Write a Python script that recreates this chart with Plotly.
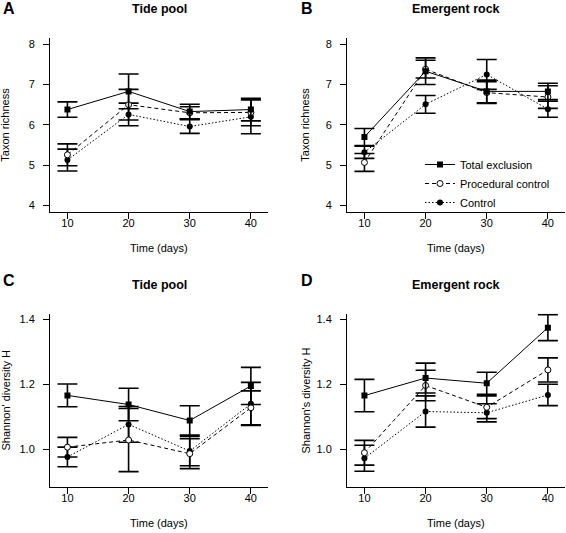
import plotly.graph_objects as go

W, H = 566, 533
days = [10, 20, 30, 40]
series_names = ["Total exclusion", "Procedural control", "Control"]

# Panel A: Tide pool, taxon richness
a_total = [6.38, 6.83, 6.33, 6.38]
a_total_se = [0.19, 0.43, 0.18, 0.28]
a_proc = [5.26, 6.50, 6.30, 6.31]
a_proc_se = [0.27, 0.38, 0.15, 0.33]
a_ctrl = [5.13, 6.26, 5.96, 6.20]
a_ctrl_se = [0.27, 0.28, 0.17, 0.42]

# Panel B: Emergent rock, taxon richness
b_total = [5.70, 7.33, 6.83, 6.83]
b_total_se = [0.21, 0.33, 0.28, 0.20]
b_proc = [5.07, 7.38, 6.80, 6.69]
b_proc_se = [0.22, 0.22, 0.27, 0.28]
b_ctrl = [5.32, 6.51, 7.25, 6.39]
b_ctrl_se = [0.15, 0.22, 0.37, 0.20]

# Panel C: Tide pool, Shannon diversity
c_total = [1.166, 1.138, 1.089, 1.195]
c_total_se = [0.035, 0.050, 0.045, 0.057]
c_proc = [1.007, 1.029, 0.987, 1.128]
c_proc_se = [0.030, 0.097, 0.046, 0.052]
c_ctrl = [0.977, 1.077, 0.995, 1.140]
c_ctrl_se = [0.030, 0.055, 0.045, 0.066]

# Panel D: Emergent rock, Shannon diversity
d_total = [1.166, 1.220, 1.204, 1.375]
d_total_se = [0.050, 0.046, 0.034, 0.040]
d_proc = [0.990, 1.197, 1.130, 1.245]
d_proc_se = [0.038, 0.047, 0.035, 0.037]
d_ctrl = [0.973, 1.117, 1.113, 1.168]
d_ctrl_se = [0.040, 0.048, 0.028, 0.033]

rich_ticks = [4, 5, 6, 7, 8]
shan_ticks = [1.0, 1.2, 1.4]
shan_labels = ["1.0", "1.2", "1.4"]
x_ticks = [10, 20, 30, 40]

FONT = "Liberation Sans, Arial, Helvetica, sans-serif"

styles = [
    dict(line=dict(color="black", width=1, dash="solid"),
         marker=dict(symbol="square", size=6, color="black")),
    dict(line=dict(color="black", width=1, dash="4px,3px"),
         marker=dict(symbol="circle", size=6, color="white", line=dict(color="black", width=1))),
    dict(line=dict(color="black", width=1, dash="1.5px,2px"),
         marker=dict(symbol="circle", size=6, color="black")),
]

panels = [
    ("", [(a_total, a_total_se), (a_proc, a_proc_se), (a_ctrl, a_ctrl_se)]),
    ("2", [(b_total, b_total_se), (b_proc, b_proc_se), (b_ctrl, b_ctrl_se)]),
    ("3", [(c_total, c_total_se), (c_proc, c_proc_se), (c_ctrl, c_ctrl_se)]),
    ("4", [(d_total, d_total_se), (d_proc, d_proc_se), (d_ctrl, d_ctrl_se)]),
]

fig = go.Figure()
for suffix, data in panels:
    # draw control first so total exclusion is on top
    for idx in [2, 1, 0]:
        vals, se = data[idx]
        st = styles[idx]
        fig.add_trace(go.Scatter(
            x=days, y=vals, mode="lines+markers",
            name=series_names[idx],
            line=st["line"], marker=st["marker"],
            error_y=dict(type="data", array=se, visible=True, color="black",
                         thickness=1.6, width=10),
            xaxis="x" + suffix, yaxis="y" + suffix,
            showlegend=(suffix == "2"),
            legendrank=idx + 1,
        ))

def px_x(a, b):
    return [a / W, b / W]

def px_y(top, bottom):
    return [1 - bottom / H, 1 - top / H]

xdom_left = px_x(50, 268)
xdom_right = px_x(347, 565)
ydom_top = px_y(37.7, 211.7)
ydom_bot = px_y(313.7, 487.2)

common_x = dict(range=[7.15, 42.8], tickvals=x_ticks, ticks="outside", ticklen=6,
                tickwidth=1, tickcolor="black", showline=True, linecolor="black",
                linewidth=1, showgrid=False, zeroline=False,
                tickfont=dict(size=11, color="black", family=FONT),
                ticklabelstandoff=-5, fixedrange=True)
common_y = dict(ticks="outside", ticklen=6, tickwidth=1, tickcolor="black",
                showline=True, linecolor="black", linewidth=1, showgrid=False,
                zeroline=False, tickfont=dict(size=11, color="black", family=FONT),
                ticklabelstandoff=6, fixedrange=True)

layout = dict(
    width=W, height=H,
    margin=dict(l=0, r=0, t=0, b=0),
    paper_bgcolor="white", plot_bgcolor="white",
    font=dict(family=FONT, size=11, color="black"),
    showlegend=True,
    legend=dict(x=420 / W, y=1 - 150 / H, xanchor="left", yanchor="top",
                bgcolor="rgba(0,0,0,0)", font=dict(size=11, family=FONT, color="black"),
                itemclick=False, itemdoubleclick=False, traceorder="normal"),
    xaxis=dict(domain=xdom_left, anchor="y", **common_x),
    yaxis=dict(domain=ydom_top, anchor="x", range=[3.85, 8.16], tickvals=rich_ticks, **common_y),
    xaxis2=dict(domain=xdom_right, anchor="y2", **common_x),
    yaxis2=dict(domain=ydom_top, anchor="x2", range=[3.85, 8.16], tickvals=rich_ticks, **common_y),
    xaxis3=dict(domain=xdom_left, anchor="y3", **common_x),
    yaxis3=dict(domain=ydom_bot, anchor="x3", range=[0.884, 1.417], tickvals=shan_ticks,
                ticktext=shan_labels, **common_y),
    xaxis4=dict(domain=xdom_right, anchor="y4", **common_x),
    yaxis4=dict(domain=ydom_bot, anchor="x4", range=[0.884, 1.418], tickvals=shan_ticks,
                ticktext=shan_labels, **common_y),
)
fig.update_layout(**layout)

def ann(text, x, y, size=11, bold=False, angle=0, xanchor="center"):
    t = f"<b>{text}</b>" if bold else text
    fig.add_annotation(text=t, x=x / W, y=1 - y / H, xref="paper", yref="paper",
                       showarrow=False, xanchor=xanchor, yanchor="middle",
                       textangle=angle, font=dict(size=size, family=FONT, color="black"))

# panel letters
ann("A", 1, 8.5, size=16, bold=True, xanchor="left")
ann("B", 299, 8.5, size=16, bold=True, xanchor="left")
ann("C", 1, 280, size=16, bold=True, xanchor="left")
ann("D", 299, 280, size=16, bold=True, xanchor="left")

# panel titles
ann("Tide pool", 159, 9, size=12.5, bold=True)
ann("Emergent rock", 456, 9, size=12.5, bold=True)
ann("Tide pool", 159, 285, size=12.5, bold=True)
ann("Emergent rock", 456, 285, size=12.5, bold=True)

# x axis titles
ann("Time (days)", 159, 248)
ann("Time (days)", 456, 248)
ann("Time (days)", 159, 523)
ann("Time (days)", 456, 523)

# y axis titles
ann("Taxon richness", 5, 124.7, angle=-90)
ann("Taxon richness", 305, 124.7, angle=-90)
ann("Shannon' diversity H", 5, 400.5, angle=-90)
ann("Shannon's diversity H", 305, 400.5, angle=-90)

fig.write_html(
    "out.html",
    config={"displayModeBar": False, "staticPlot": True},
    post_script="document.body.style.margin='0px';document.body.style.overflow='hidden';",
)
